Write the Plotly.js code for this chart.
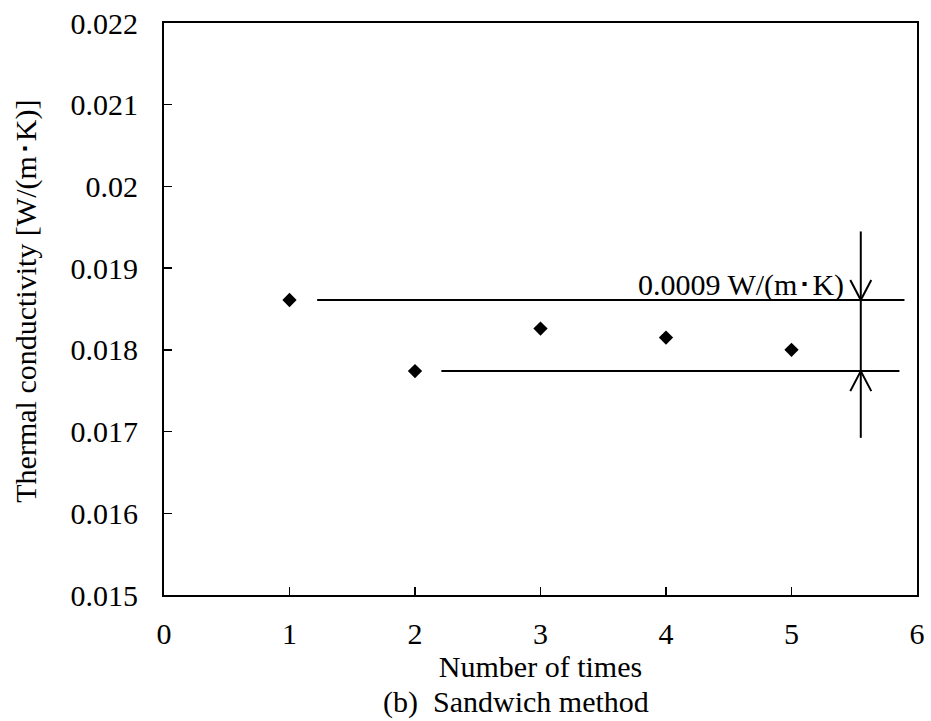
<!DOCTYPE html>
<html>
<head>
<meta charset="utf-8">
<script src="https://cdn.plot.ly/plotly-3.0.1.min.js"></script>
<style>html,body{margin:0;padding:0;background:#fff;}#chart{width:931px;height:721px;}</style>
</head>
<body>
<div id="chart"></div>
<script>
// Data
const runs = [1, 2, 3, 4, 5];
const conductivity = [0.01861, 0.01774, 0.01826, 0.01815, 0.01800];
const yTickVals = [0.015, 0.016, 0.017, 0.018, 0.019, 0.02, 0.021, 0.022];
const yTickText = ["0.015", "0.016", "0.017", "0.018", "0.019", "0.02", "0.021", "0.022"];
const xTickVals = [0, 1, 2, 3, 4, 5, 6];
const xTickText = ["0", "1", "2", "3", "4", "5", "6"];
const spreadLabel = "0.0009 W/(m\uFF65K)";
const xTitle = "Number of times";
const yTitle = "Thermal conductivity [W/(m\uFF65K)]";
const caption = "(b)\u00A0\u00A0Sandwich method";

// Annotation geometry (x extents in data units)
const topLineX = [1.22, 5.90];
const botLineX = [2.21, 5.86];
const dimX = 5.552;
const dimY = [0.016923, 0.019449];

const yMax = Math.max(...conductivity);
const yMin = Math.min(...conductivity);

const font = "Liberation Serif";
const FS = 30;

const traces = [
  {
    x: runs, y: conductivity, type: "scatter", mode: "markers",
    marker: {symbol: "diamond", size: 11, color: "#000"},
    showlegend: false, hoverinfo: "x+y"
  }
];

const shapes = [
  {type: "line", xref: "x", yref: "y", x0: topLineX[0], x1: topLineX[1], y0: yMax, y1: yMax, line: {color: "#000", width: 2}},
  {type: "line", xref: "x", yref: "y", x0: botLineX[0], x1: botLineX[1], y0: yMin, y1: yMin, line: {color: "#000", width: 2}},
  {type: "line", xref: "x", yref: "y", x0: dimX, x1: dimX, y0: dimY[0], y1: dimY[1], line: {color: "#000", width: 2}},
  {type: "path", xref: "x", yref: "y", xsizemode: "pixel", ysizemode: "pixel", xanchor: dimX, yanchor: yMax,
   path: "M -10.5 20 L 0 0 L 10.5 20", line: {color: "#000", width: 2}},
  {type: "path", xref: "x", yref: "y", xsizemode: "pixel", ysizemode: "pixel", xanchor: dimX, yanchor: yMin,
   path: "M -10.5 -20 L 0 0 L 10.5 -20", line: {color: "#000", width: 2}}
];

const layout = {
  width: 931, height: 721,
  margin: {l: 164, r: 14, t: 23, b: 125.5},
  paper_bgcolor: "#fff", plot_bgcolor: "#fff",
  font: {family: font, size: FS, color: "#000"},
  showlegend: false,
  xaxis: {
    range: [0, 6], tickvals: xTickVals, ticktext: xTickText,
    ticks: "inside", ticklen: 8, tickwidth: 1.5, tickcolor: "#000",
    showline: true, linecolor: "#000", linewidth: 2, mirror: true,
    showgrid: false, zeroline: false,
    tickfont: {family: font, size: FS, color: "#000"},
    ticklabelstandoff: 11,
    title: {text: xTitle, font: {family: font, size: FS, color: "#000"}, standoff: 0}
  },
  yaxis: {
    range: [0.015, 0.022], tickvals: yTickVals, ticktext: yTickText,
    ticks: "inside", ticklen: 8, tickwidth: 1.5, tickcolor: "#000",
    showline: true, linecolor: "#000", linewidth: 2, mirror: true,
    showgrid: false, zeroline: false,
    tickfont: {family: font, size: FS, color: "#000"},
    ticklabelstandoff: 18
  },
  shapes: shapes,
  annotations: [
    {xref: "x", yref: "y", x: dimX, xshift: -15, y: yMax, xanchor: "right", yanchor: "bottom",
     text: spreadLabel, showarrow: false, font: {family: font, size: FS, color: "#000"}, yshift: -4},
    {xref: "paper", yref: "paper", x: 0, xshift: -138, y: 0.5127, xanchor: "center", yanchor: "middle",
     textangle: -90, text: yTitle, showarrow: false, font: {family: font, size: FS, color: "#000"}},
    {xref: "paper", yref: "paper", x: 0.468, y: 0, yshift: -88, xanchor: "center", yanchor: "top",
     text: caption, showarrow: false, font: {family: font, size: FS, color: "#000"}}
  ]
};

Plotly.newPlot("chart", traces, layout, {displayModeBar: false, staticPlot: true});
</script>
</body>
</html>
